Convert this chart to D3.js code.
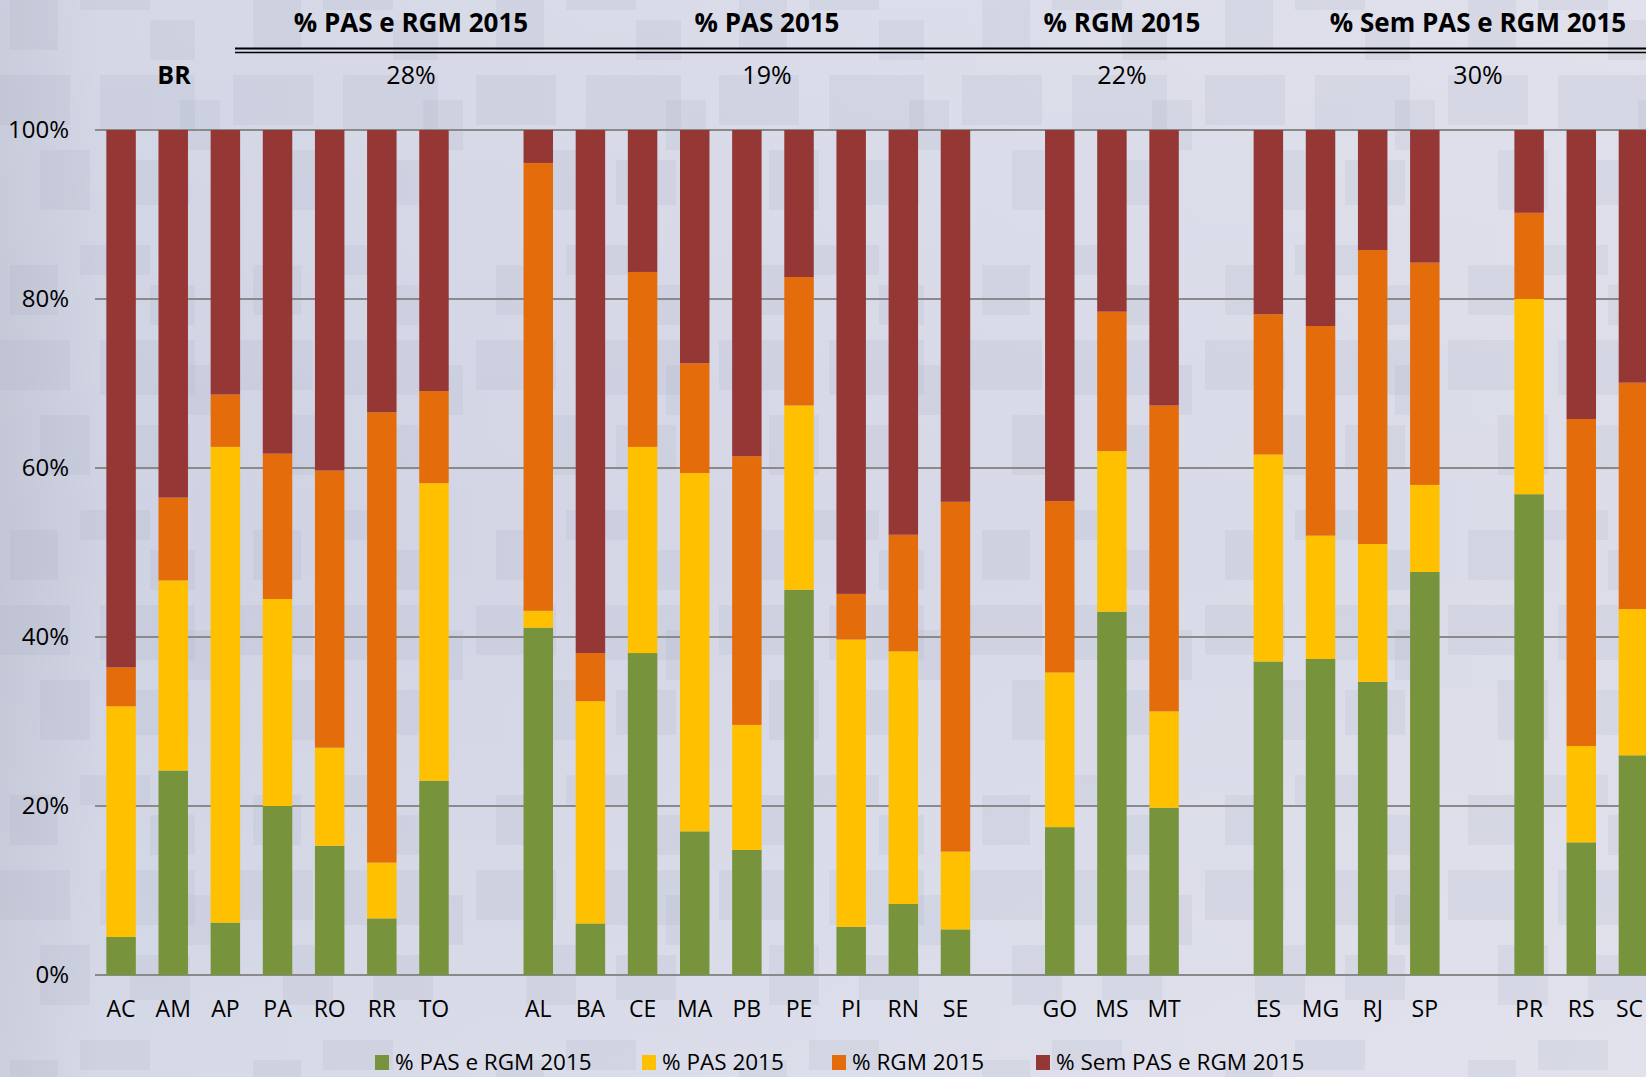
<!DOCTYPE html>
<html>
<head>
<meta charset="utf-8">
<script src="https://cdn.jsdelivr.net/npm/d3@7"></script>
<style>
  html, body { margin: 0; padding: 0; background: #d3d6e6; }
  svg { display: block; }
  text { font-family: "Open Sans", "Noto Sans", sans-serif; fill: #000; }
</style>
</head>
<body>
<svg id="chart" width="1646" height="1077"></svg>
<script>
// ---------- DATA ----------
const categories = ["AC","AM","AP","PA","RO","RR","TO","_1","AL","BA","CE","MA","PB","PE","PI","RN","SE","_2","GO","MS","MT","_3","ES","MG","RJ","SP","_4","PR","RS","SC"];
const seriesNames = ["% PAS e RGM 2015","% PAS 2015","% RGM 2015","% Sem PAS e RGM 2015"];
const pasRgm = [4.5,24.2,6.2,20.0,15.3,6.7,23.0,null,41.1,6.1,38.1,17.0,14.8,45.6,5.7,8.4,5.4,null,17.5,43.0,19.8,null,37.1,37.4,34.7,47.7,null,56.9,15.7,26.0];
const pas    = [27.3,22.5,56.3,24.5,11.6,6.6,35.2,null,2.0,26.3,24.4,42.4,14.8,21.8,34.0,29.9,9.2,null,18.3,19.0,11.4,null,24.5,14.6,16.3,10.3,null,23.1,11.4,17.3];
const rgm    = [4.6,9.8,6.2,17.2,32.8,53.3,10.9,null,53.0,5.7,20.7,13.0,31.8,15.2,5.4,13.8,41.4,null,20.3,16.5,36.2,null,16.6,24.8,34.8,26.3,null,10.2,38.7,26.8];
const semPasRgm = [63.6,43.5,31.3,38.3,40.3,33.4,30.9,null,3.9,61.9,16.8,27.6,38.6,17.4,54.9,47.9,44.0,null,43.9,21.5,32.6,null,21.8,23.2,14.2,15.7,null,9.8,34.2,29.9];
const yTicks = [0,20,40,60,80,100];
const headerTitles = ["% PAS e RGM 2015","% PAS 2015","% RGM 2015","% Sem PAS e RGM 2015"];
const brValues = ["28%","19%","22%","30%"];
const colors = ["#77933c","#ffc000","#e46c0a","#953735"];

// ---------- LAYOUT ----------
const W = 1646, H = 1077;
const svg = d3.select("#chart");
const defs = svg.append("defs");

// background
const bg = defs.append("linearGradient").attr("id","bg").attr("x1","0").attr("x2","1").attr("y1","0").attr("y2","0");
bg.append("stop").attr("offset","0").attr("stop-color","#c3c6d6");
bg.append("stop").attr("offset","0.06").attr("stop-color","#cfd2e2");
bg.append("stop").attr("offset","0.5").attr("stop-color","#d6d8e7");
bg.append("stop").attr("offset","1").attr("stop-color","#dcdde9");
svg.append("rect").attr("width",W).attr("height",H).attr("fill","url(#bg)");
const vg = defs.append("linearGradient").attr("id","vg").attr("x1","0").attr("x2","0").attr("y1","0").attr("y2","1");
vg.append("stop").attr("offset","0").attr("stop-color","#ffffff").attr("stop-opacity",0.12);
vg.append("stop").attr("offset","0.5").attr("stop-color","#ffffff").attr("stop-opacity",0.0);
vg.append("stop").attr("offset","1").attr("stop-color","#ffffff").attr("stop-opacity",0.15);
svg.append("rect").attr("width",W).attr("height",H).attr("fill","url(#vg)");

// faint decorative texture
const pat = defs.append("pattern").attr("id","tex").attr("patternUnits","userSpaceOnUse")
  .attr("width",243).attr("height",265).attr("x",-20).attr("y",-20);
[[30,20,48,50],[100,0,70,30],[170,40,45,40],[10,95,80,50],[120,95,95,55],[60,170,50,60],[150,180,60,45],[200,120,40,50]]
  .forEach(r => pat.append("rect").attr("x",r[0]).attr("y",r[1]).attr("width",r[2]).attr("height",r[3])
    .attr("fill","#9fa3bd").attr("opacity",0.14));
svg.append("rect").attr("width",W).attr("height",H).attr("fill","url(#tex)");

const x0 = 95, step = 52.15;
const yTop = 130, yBot = 975;
const x = d3.scaleBand().domain(categories).range([x0, x0 + step*categories.length])
  .paddingInner(0.435).paddingOuter(0.2175);
const y = d3.scaleLinear().domain([0,100]).range([yBot, yTop]);

// gridlines
svg.append("g").selectAll("line").data(yTicks).join("line")
  .attr("x1", x0).attr("x2", W).attr("y1", d => y(d)).attr("y2", d => y(d))
  .attr("stroke", "#8a8a8a").attr("stroke-width", 1.8);

// stacked bars
const rows = categories.map((c,i) => ({cat:c, s0:pasRgm[i], s1:pas[i], s2:rgm[i], s3:semPasRgm[i]}))
  .filter(r => r.s0 !== null);
const stack = d3.stack().keys(["s0","s1","s2","s3"]);
const stacked = stack(rows);
svg.append("g").selectAll("g").data(stacked).join("g")
  .attr("fill", (d,i) => colors[i])
  .selectAll("rect").data(d => d).join("rect")
  .attr("x", d => x(d.data.cat))
  .attr("width", x.bandwidth())
  .attr("y", d => y(d[1]))
  .attr("height", d => y(d[0]) - y(d[1]));

// y axis labels
const yAxis = d3.axisLeft(y).tickValues(yTicks).tickFormat(d => d + "%").tickSize(0).tickPadding(0);
const ya = svg.append("g").attr("transform", "translate(69,0)").call(yAxis);
ya.select(".domain").remove();
ya.selectAll("text").attr("font-size", 24).attr("font-family", null).attr("fill","#000");

// x axis labels
const xAxis = d3.axisBottom(x).tickFormat(d => d.startsWith("_") ? "" : d).tickSize(0).tickPadding(0);
const xa = svg.append("g").attr("transform", "translate(0,1000)").call(xAxis);
xa.select(".domain").remove();
xa.selectAll("text").attr("font-size", 23).attr("font-family", null).attr("fill","#000").attr("dy","0.75em");
// keep the last label inside the page
const scCenter = x("SC") + x.bandwidth()/2;
xa.selectAll(".tick").filter(d => d === "SC").select("text")
  .attr("text-anchor","end").attr("dx", (W - 3) - scCenter);

// header
const headerX = [411, 767, 1122, 1478];
svg.append("g").selectAll("text").data(headerTitles).join("text")
  .attr("x", (d,i) => headerX[i]).attr("y", 32)
  .attr("text-anchor","middle").attr("font-size", 26).attr("font-weight","bold")
  .text(d => d);
svg.append("line").attr("x1",235).attr("x2",W).attr("y1",48.5).attr("y2",48.5).attr("stroke","#000").attr("stroke-width",2);
svg.append("line").attr("x1",235).attr("x2",W).attr("y1",52.5).attr("y2",52.5).attr("stroke","#000").attr("stroke-width",1.5);
svg.append("text").attr("x",174).attr("y",84).attr("text-anchor","middle")
  .attr("font-size",25).attr("font-weight","bold").text("BR");
svg.append("g").selectAll("text").data(brValues).join("text")
  .attr("x", (d,i) => headerX[i]).attr("y", 84)
  .attr("text-anchor","middle").attr("font-size", 25)
  .text(d => d);

// legend
const legX = [375, 642, 832, 1036];
const leg = svg.append("g").selectAll("g").data(seriesNames).join("g")
  .attr("transform", (d,i) => `translate(${legX[i]},1055)`);
leg.append("rect").attr("width",14).attr("height",15).attr("fill",(d,i) => colors[i]);
leg.append("text").attr("x",20).attr("y",15).attr("font-size",22.5).text(d => d);
</script>
</body>
</html>
